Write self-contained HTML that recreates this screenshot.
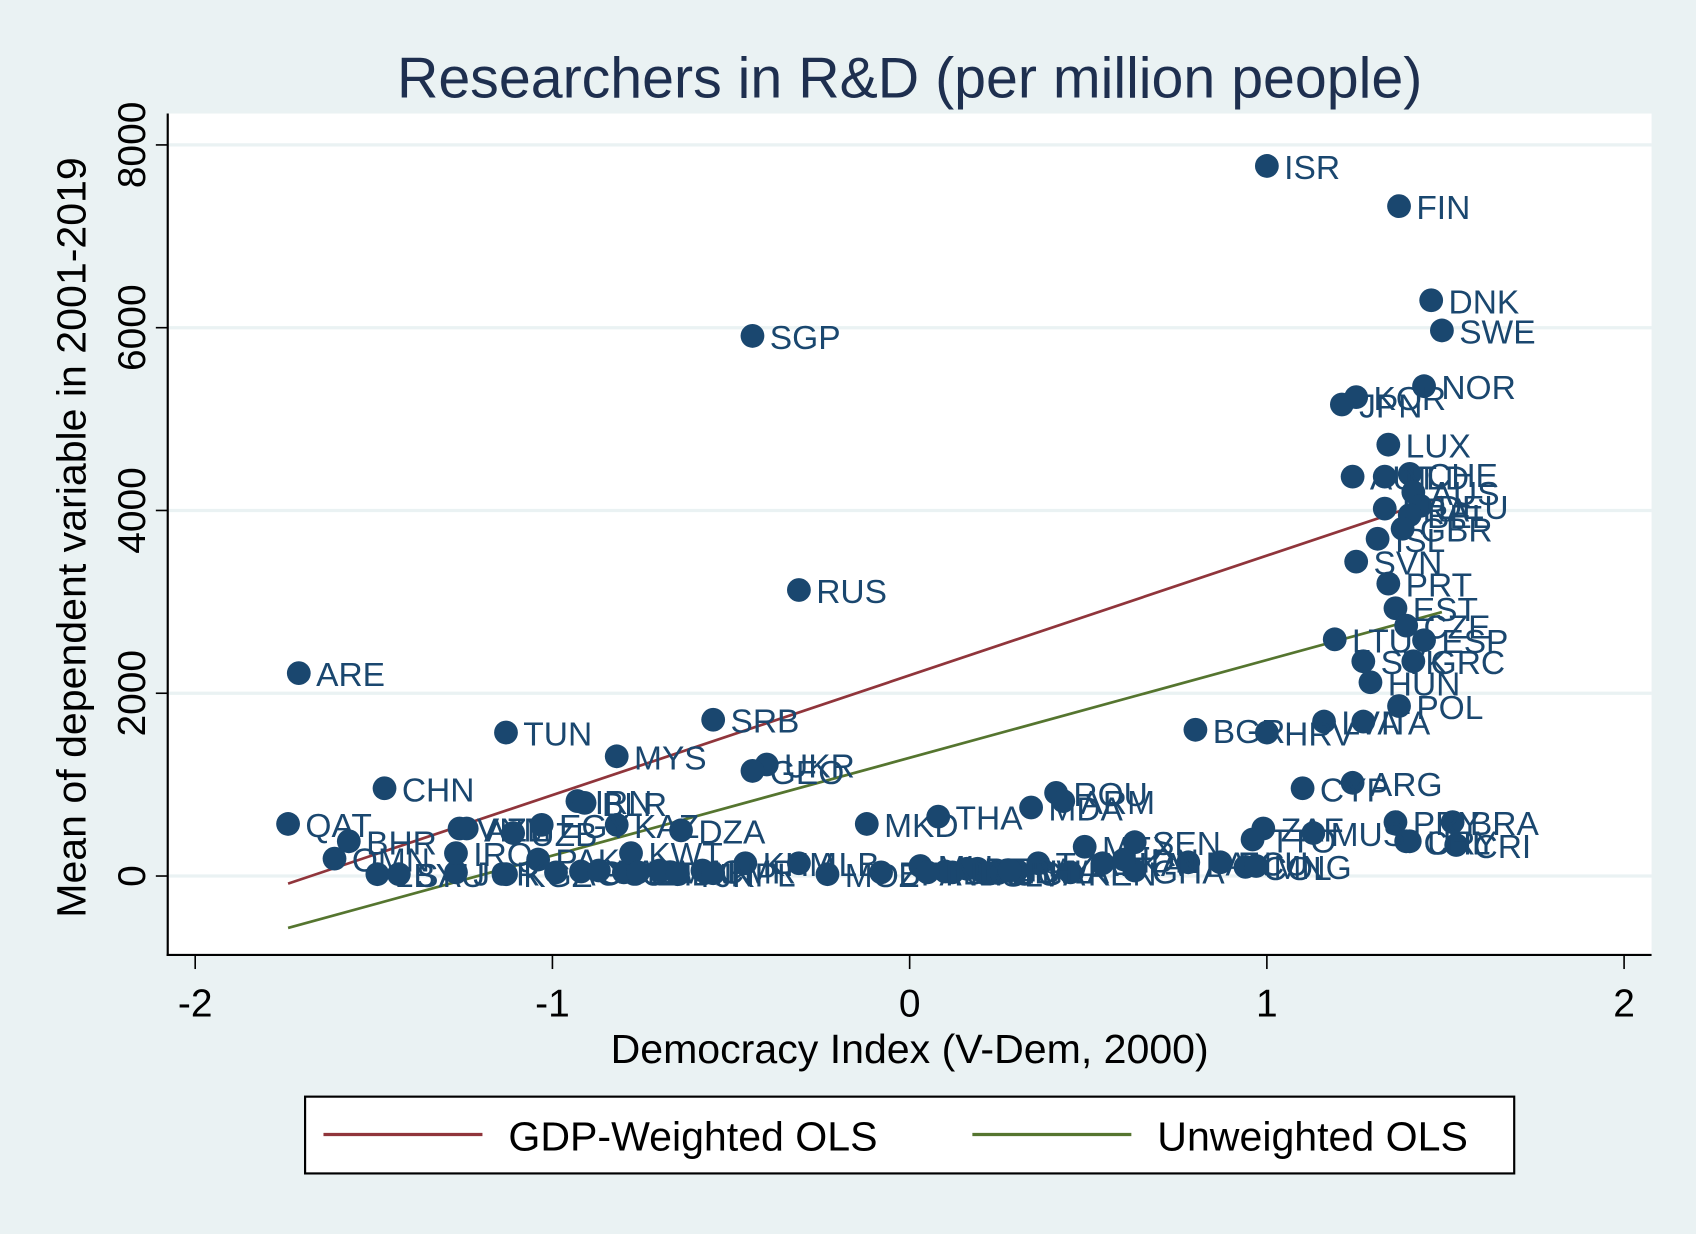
<!DOCTYPE html>
<html><head><meta charset="utf-8"><style>
html,body{margin:0;padding:0;background:#eaf2f3;}
svg{display:block;font-family:"Liberation Sans",Arial,sans-serif;}
</style></head><body>
<svg id="chart" width="1696" height="1234" viewBox="0 0 1568 1141" xmlns="http://www.w3.org/2000/svg">
<rect x="0" y="0" width="1568" height="1141" fill="#eaf2f3"/>
<rect x="155" y="105" width="1372" height="778" fill="#ffffff"/>
<text x="841" y="90" font-size="53" fill="#1e2f4f" text-anchor="middle">Researchers in R&amp;D (per million people)</text>
<g id="grid"></g>
<g id="lines"></g>
<g id="points"></g>
<line x1="155" y1="105" x2="155" y2="884" stroke="#000" stroke-width="2"/>
<line x1="154" y1="883" x2="1527" y2="883" stroke="#000" stroke-width="2"/>
<g id="yticks"></g>
<g id="xticks"></g>
<text transform="translate(79,497) rotate(-90)" font-size="38" fill="#000" text-anchor="middle">Mean of dependent variable in 2001-2019</text>
<text x="841" y="983" font-size="38" fill="#000" text-anchor="middle">Democracy Index (V-Dem, 2000)</text>
<g>
<rect x="282" y="1014" width="1118" height="71" fill="#fff" stroke="#000" stroke-width="2"/>
<line x1="299" y1="1049" x2="446" y2="1049" stroke="#90353b" stroke-width="3"/>
<text x="470" y="1064" font-size="38" fill="#000">GDP-Weighted OLS</text>
<line x1="899" y1="1049" x2="1046" y2="1049" stroke="#55752f" stroke-width="3"/>
<text x="1070" y="1064" font-size="38" fill="#000">Unweighted OLS</text>
</g>
</svg>
<script>
const codes = ["ISR","FIN","DNK","SWE","SGP","NOR","KOR","JPN","LUX","CHE","AUT","NLD","AUS","DEU","FRA","BEL","ISL","GBR","SVN","PRT","EST","CZE","LTU","ESP","SVK","GRC","HUN","POL","LVA","ITA","BGR","HRV","RUS","ARE","TUN","SRB","MYS","UKR","GEO","CHN","IRN","BLR","QAT","BHR","OMN","KAZ","DZA","MKD","THA","MDA","ROU","ARM","ARG","CYP","BRA","PRY","URY","CRI","CHL","ZAF","TTO","MUS","MEX","SEN","LBY","SAU","JOR","IRQ","VNM","AZE","UZB","EGY","PAK","KGZ","AGO","CUB","LAO","COD","KWT","ETH","MAR","TJK","CMR","KHM","NPL","ALB","MOZ","BFA","MLI","NIC","GTM","UGA","TZA","BWA","KEN","LKA","GHA","PAN","ECU","COL","MNG","SLV","BOL","PER","IND","PHL","IDN"];
const xs = [1.00,1.37,1.46,1.49,-0.44,1.44,1.25,1.21,1.34,1.40,1.24,1.33,1.41,1.43,1.33,1.40,1.31,1.38,1.25,1.34,1.36,1.39,1.19,1.44,1.27,1.41,1.29,1.37,1.16,1.27,0.80,1.00,-0.31,-1.71,-1.13,-0.55,-0.82,-0.40,-0.44,-1.47,-0.93,-0.91,-1.74,-1.57,-1.61,-0.82,-0.64,-0.12,0.08,0.34,0.41,0.43,1.24,1.10,1.52,1.36,1.40,1.53,1.39,0.99,0.96,1.13,0.49,0.63,-1.49,-1.43,-1.27,-1.27,-1.26,-1.24,-1.11,-1.03,-1.04,-1.13,-0.99,-0.92,-0.87,-0.80,-0.78,-0.76,-0.70,-0.65,-0.58,-0.46,-0.55,-0.31,-0.23,-0.08,0.03,0.12,0.19,0.24,0.36,0.30,0.45,0.54,0.63,0.78,0.87,0.94,0.97,0.21,0.10,0.16,0.05,0.28,0.60];
const ys = [7770,7330,6300,5970,5910,5360,5240,5160,4720,4400,4370,4370,4200,4050,4020,3950,3690,3800,3440,3200,2930,2740,2590,2580,2350,2350,2120,1860,1690,1690,1600,1570,3130,2220,1570,1710,1310,1220,1150,960,820,800,570,380,190,560,500,570,650,750,910,820,1020,960,590,590,380,340,380,520,400,470,320,370,20,20,40,250,520,520,470,560,180,20,40,50,60,40,250,40,60,20,60,140,30,140,20,40,110,40,80,40,140,60,40,140,60,150,150,100,110,30,50,80,40,60,180];
const tickVals = [0,2000,4000,6000,8000];
const xTickVals = [-2,-1,0,1,2];
const lineX = [-1.74,1.49];
const gdpY = [-83,4148];
const unwY = [-568,2888];

const NS = "http://www.w3.org/2000/svg";
function sx(v){return 841 + v*330.3;}
function sy(v){return 810 - v*169/2000;}
function mk(tag, attrs, parent){const e=document.createElementNS(NS,tag);for(const k in attrs)e.setAttribute(k,attrs[k]);parent.appendChild(e);return e;}

const grid=document.getElementById('grid'), yt=document.getElementById('yticks'), xt=document.getElementById('xticks');
tickVals.forEach(v=>{
  const g=mk('line',{x1:156,x2:1527,y1:sy(v),y2:sy(v),stroke:'#eaf2f3','stroke-width':3},grid);
  
  
  const t=mk('line',{x1:144,x2:155,y1:sy(v),y2:sy(v),stroke:'#000','stroke-width':1.5},yt);
  
  
  const l=mk('text',{transform:`translate(134,${sy(v)}) rotate(-90)`,'font-size':36,'text-anchor':'middle',fill:'#000'},yt);
  l.textContent=String(v);
  
  
});
xTickVals.forEach(v=>{
  const t=mk('line',{x1:sx(v),x2:sx(v),y1:883,y2:896,stroke:'#000','stroke-width':1.5},xt);
  
  
  const l=mk('text',{x:sx(v),y:940,'font-size':36,'text-anchor':'middle',fill:'#000'},xt);
  l.textContent=String(v);
  
  
});
const lines=document.getElementById('lines');
const lg=mk('line',{x1:sx(lineX[0]),y1:sy(gdpY[0]),x2:sx(lineX[1]),y2:sy(gdpY[1]),stroke:'#90353b','stroke-width':2.5},lines);


const lu=mk('line',{x1:sx(lineX[0]),y1:sy(unwY[0]),x2:sx(lineX[1]),y2:sy(unwY[1]),stroke:'#55752f','stroke-width':2.5},lines);


const pts=document.getElementById('points');
codes.forEach((c,i)=>{
  const cx=sx(xs[i]), cy=sy(ys[i]);
  const d=mk('circle',{cx:cx,cy:cy,r:11,fill:'#1a476f'},pts);
  
  
  const t=mk('text',{x:cx+16,y:cy+12,'font-size':31,fill:'#1a476f'},pts);
  t.textContent=c;
  
  
});
</script>
</body></html>
